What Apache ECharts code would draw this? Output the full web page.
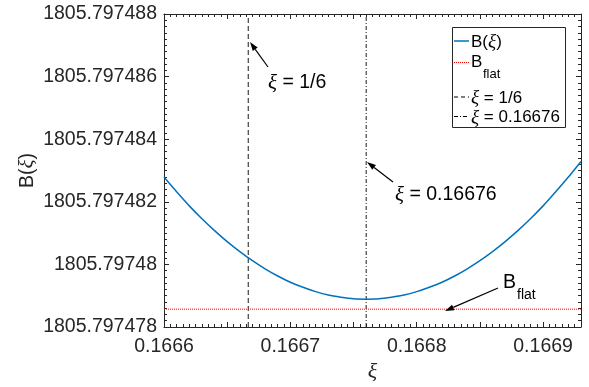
<!DOCTYPE html>
<html>
<head>
<meta charset="utf-8">
<script src="https://cdn.jsdelivr.net/npm/echarts@6/dist/echarts.min.js"></script>
<style>
  html, body { margin: 0; padding: 0; background: #fff; }
  #chart { width: 589px; height: 387px; }
</style>
</head>
<body>
<div id="chart"></div>
<script>
// values
const xiValues = [
  0.16660, 0.16661, 0.16662, 0.16663, 0.16664, 0.16665, 0.16666, 0.16667, 0.16668, 0.16669,
  0.16670, 0.16671, 0.16672, 0.16673, 0.16674, 0.16675, 0.16676, 0.16677, 0.16678, 0.16679,
  0.16680, 0.16681, 0.16682, 0.16683, 0.16684, 0.16685, 0.16686, 0.16687, 0.16688, 0.16689,
  0.16690, 0.16691, 0.16692, 0.16693
];
const bValues = [
  1805.79748279, 1805.79748232, 1805.79748187, 1805.79748146, 1805.79748108, 1805.79748073,
  1805.79748041, 1805.79748012, 1805.79747986, 1805.79747963, 1805.79747943, 1805.79747927,
  1805.79747913, 1805.79747902, 1805.79747895, 1805.79747890, 1805.79747889, 1805.79747890,
  1805.79747895, 1805.79747902, 1805.79747913, 1805.79747927, 1805.79747943, 1805.79747963,
  1805.79747986, 1805.79748012, 1805.79748041, 1805.79748073, 1805.79748108, 1805.79748146,
  1805.79748187, 1805.79748232, 1805.79748279, 1805.79748329
];
const bFlat = 1805.79747857;
const xiOneSixth = 1 / 6;
const xiAtMin = 0.16676;

const xRange = [0.1666, 0.16693];
const yRange = [1805.797478, 1805.797488];
const xLabelStep = 0.0001;
const yLabelStep = 0.000002;

const axisColor = "#262626";
const tickFont = { fontFamily: "Liberation Sans", fontSize: 19.5, color: axisColor };
const xiFont = { fontFamily: "Liberation Serif", fontStyle: "italic" };

const chart = echarts.init(document.getElementById("chart"));

function xLabel(v) {
  const k = v / xLabelStep;
  if (Math.abs(k - Math.round(k)) > 1e-6) return "";
  return v.toFixed(4);
}

function xAxisDef(position, interval, tickLen, withLabels) {
  return {
    type: "value",
    position: position,
    min: xRange[0],
    max: xRange[1],
    interval: interval,
    axisLine: { show: withLabels, onZero: false, lineStyle: { color: axisColor, width: 1 } },
    axisTick: { show: true, inside: true, length: tickLen, lineStyle: { color: axisColor, width: 1 } },
    axisLabel: withLabels && position === "bottom"
      ? { show: true, margin: 10, showMaxLabel: false, formatter: xLabel, ...tickFont }
      : { show: false },
    splitLine: { show: false },
  };
}

function yAxisDef(position, withLabels) {
  return {
    type: "value",
    position: position,
    min: yRange[0],
    max: yRange[1],
    interval: yLabelStep,
    axisLine: { show: true, onZero: false, lineStyle: { color: axisColor, width: 1 } },
    axisTick: { show: true, inside: true, length: 5, lineStyle: { color: axisColor, width: 1 } },
    minorTick: { show: true, splitNumber: 10, length: 3, lineStyle: { color: axisColor, width: 1 } },
    axisLabel: withLabels
      ? { show: true, margin: 7, formatter: (v) => String(parseFloat(v.toFixed(6))), ...tickFont }
      : { show: false },
    splitLine: { show: false },
    minorSplitLine: { show: false },
  };
}

function arrow(x1, y1, x2, y2) {
  const ang = Math.atan2(y2 - y1, x2 - x1);
  const len = 9, half = 3;
  const bx = x2 - len * Math.cos(ang), by = y2 - len * Math.sin(ang);
  const px = -Math.sin(ang) * half, py = Math.cos(ang) * half;
  return [
    { type: "line", z: 50, shape: { x1: x1, y1: y1, x2: bx, y2: by }, style: { stroke: "#000", lineWidth: 1.2 } },
    { type: "polygon", z: 50, shape: { points: [[x2, y2], [bx + px, by + py], [bx - px, by - py]] }, style: { fill: "#000" } },
  ];
}

const richText = {
  n: { fontFamily: "Liberation Sans", fontSize: 19.5, color: "#000" },
  x: { ...xiFont, fontSize: 21, color: "#000" },
};
const legendRich = {
  n: { fontFamily: "Liberation Sans", fontSize: 17, color: "#000" },
  x: { ...xiFont, fontSize: 19, color: "#000" },
};

function label(x, y, text, rich) {
  return { type: "text", z: 50, x: x, y: y, style: { text: text, rich: rich, verticalAlign: "middle", align: "left" } };
}

const legendItems = [
  { y: 41, text: "{n|B(}{x|ξ}{n|)}", stroke: "#0072BD", dash: null, width: 1.5 },
  { y: 62.5, text: null, stroke: "#ff0000", dash: [1, 1], width: 1 },
  { y: 97, text: "{x|ξ}{n| = 1/6}", stroke: "#000", dash: [4, 3], width: 1 },
  { y: 116.5, text: "{x|ξ}{n| = 0.16676}", stroke: "#000", dash: [4, 2, 1, 2], width: 1 },
];

const legendGraphics = [
  { type: "rect", z: 40, shape: { x: 452.5, y: 27.5, width: 113, height: 100 }, style: { fill: "#fff", stroke: axisColor, lineWidth: 1 } },
];
legendItems.forEach((it) => {
  legendGraphics.push({
    type: "line", z: 45,
    shape: { x1: 454, y1: it.y, x2: 469, y2: it.y },
    style: { stroke: it.stroke, lineWidth: it.width, lineDash: it.dash },
  });
  if (it.text) legendGraphics.push(label(471, it.y + 1, it.text, legendRich));
});
legendGraphics.push(label(471, 62, "{n|B}", legendRich));
legendGraphics.push({ type: "text", z: 50, x: 483, y: 74, style: { text: "flat", fontFamily: "Liberation Sans", fontSize: 13, fill: "#000", verticalAlign: "middle" } });

const option = {
  animation: false,
  backgroundColor: "#fff",
  grid: { left: 164, right: 8, top: 14, bottom: 60, containLabel: false, outerBoundsMode: "none" },
  xAxis: [
    {
      ...xAxisDef("bottom", 0.00005, 5, true),
      name: "ξ",
      nameLocation: "middle",
      nameGap: 34,
      nameMoveOverlap: false,
      nameTextStyle: { ...xiFont, fontSize: 22, color: axisColor },
    },
    xAxisDef("bottom", 0.000005, 3, false),
    xAxisDef("top", 0.00005, 5, true),
    xAxisDef("top", 0.000005, 3, false),
  ],
  yAxis: [
    {
      ...yAxisDef("left", true),
      name: "{n|B(}{x|ξ}{n|)}",
      nameLocation: "middle",
      nameGap: 126,
      nameMoveOverlap: false,
      nameTextStyle: {
        rich: {
          n: { fontFamily: "Liberation Sans", fontSize: 19.5, color: axisColor },
          x: { ...xiFont, fontSize: 21, color: axisColor },
        },
      },
    },
    yAxisDef("right", false),
  ],
  series: [
    {
      name: "B(ξ)",
      type: "line",
      data: xiValues.map((x, i) => [x, bValues[i]]),
      showSymbol: false,
      smooth: 0.2,
      lineStyle: { color: "#0072BD", width: 1.5 },
      z: 5,
    },
    {
      name: "B_flat",
      type: "line",
      data: [[xRange[0], bFlat], [xRange[1], bFlat]],
      showSymbol: false,
      lineStyle: { color: "#ff0000", width: 1, type: [1, 1] },
      z: 4,
    },
    {
      name: "ξ = 1/6",
      type: "line",
      data: [[xiOneSixth, yRange[0]], [xiOneSixth, yRange[1]]],
      showSymbol: false,
      lineStyle: { color: "#1a1a1a", width: 1, type: [5, 3] },
      z: 3,
    },
    {
      name: "ξ = 0.16676",
      type: "line",
      data: [[xiAtMin, yRange[0]], [xiAtMin, yRange[1]]],
      showSymbol: false,
      lineStyle: { color: "#1a1a1a", width: 1, type: [4, 2, 1, 2] },
      z: 3,
    },
  ],
  graphic: [
    ...arrow(268, 67, 250, 42),
    label(268, 83, "{x|ξ}{n| = 1/6}", richText),
    ...arrow(393, 182, 367, 162),
    label(395, 195, "{x|ξ}{n| = 0.16676}", richText),
    ...arrow(498, 288, 445, 311),
    label(503, 283, "{n|B}", richText),
    { type: "text", z: 50, x: 517, y: 295, style: { text: "flat", fontFamily: "Liberation Sans", fontSize: 14, fill: "#000", verticalAlign: "middle" } },
    ...legendGraphics,
  ],
};

chart.setOption(option);
</script>
</body>
</html>
